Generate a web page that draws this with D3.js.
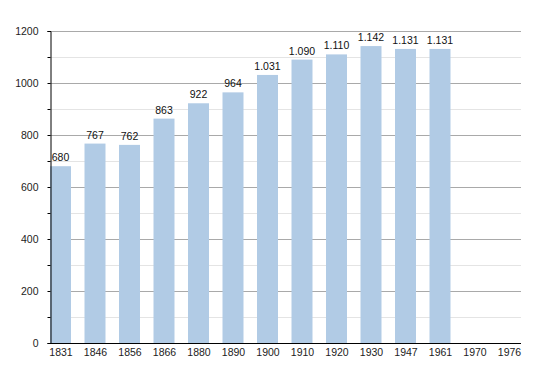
<!DOCTYPE html>
<html>
<head>
<meta charset="utf-8">
<script src="https://cdn.jsdelivr.net/npm/d3@7"></script>
<style>
  body { margin: 0; background: #fff; }
  text { font-family: "Liberation Sans", Arial, sans-serif; }
</style>
</head>
<body>
<svg id="chart" width="550" height="373"></svg>
<script>
// Data
const years = ['1831', '1846', '1856', '1866', '1880', '1890', '1900', '1910', '1920', '1930', '1947', '1961', '1970', '1976'];
const population = [680, 767, 762, 863, 922, 964, 1031, 1090, 1110, 1142, 1131, 1131, null, null];
const yTicks = [0, 200, 400, 600, 800, 1000, 1200];
const yMinorTicks = [100, 300, 500, 700, 900, 1100];

const svg = d3.select('#chart');
const plotLeft = 50, plotRight = 521, plotTop = 31, plotBottom = 343;
const fontSize = 10.5;

const x = d3.scalePoint().domain(years).range([60.5, 509]);
const y = d3.scaleLinear().domain([0, 1200]).range([plotBottom, plotTop]);
const barWidth = 21;

// Format with dot as thousands separator
const fmt = d3.formatLocale({ decimal: ',', thousands: '.', grouping: [3], currency: ['', ''] }).format(',d');

// Minor gridlines
svg.append('g')
  .selectAll('line')
  .data(yMinorTicks)
  .join('line')
  .attr('x1', plotLeft).attr('x2', plotRight)
  .attr('y1', d => y(d) + 0.5).attr('y2', d => y(d) + 0.5)
  .attr('stroke', '#e4e4e4');

// Major gridlines
svg.append('g')
  .selectAll('line')
  .data(yTicks.filter(d => d > 0))
  .join('line')
  .attr('x1', plotLeft).attr('x2', plotRight)
  .attr('y1', d => y(d) + 0.5).attr('y2', d => y(d) + 0.5)
  .attr('stroke', '#a9a9a9');

// Bars
const data = years.map((yr, i) => ({ year: yr, value: population[i] })).filter(d => d.value != null);

svg.append('g')
  .selectAll('rect')
  .data(data)
  .join('rect')
  .attr('x', d => x(d.year) - barWidth / 2)
  .attr('y', d => y(d.value))
  .attr('width', barWidth)
  .attr('height', d => y(0) - y(d.value))
  .attr('fill', '#b1cbe5');

// Value labels
svg.append('g')
  .selectAll('text')
  .data(data)
  .join('text')
  .attr('x', d => x(d.year))
  .attr('y', d => y(d.value) - 5)
  .attr('text-anchor', 'middle')
  .attr('font-size', fontSize)
  .attr('fill', '#111')
  .text(d => fmt(d.value));

// Y axis
const yAxis = svg.append('g')
  .attr('transform', `translate(${plotLeft + 0.5},0)`)
  .call(d3.axisLeft(y).tickValues(yTicks).tickSize(3).tickPadding(9).tickFormat(d3.format('d')));
yAxis.select('.domain').attr('stroke', '#000');
yAxis.selectAll('.tick text').attr('font-size', fontSize).attr('fill', '#222').attr('font-family', '"Liberation Sans", Arial, sans-serif');

svg.append('g')
  .attr('transform', `translate(${plotLeft + 0.5},0)`)
  .call(d3.axisLeft(y).tickValues(yMinorTicks).tickSize(3).tickFormat(''))
  .select('.domain').remove();

// X axis
const xAxis = svg.append('g')
  .attr('transform', `translate(0,${plotBottom + 0.5})`)
  .call(d3.axisBottom(x).tickSize(0).tickPadding(5));
xAxis.select('.domain').attr('d', `M${plotLeft},0H${plotRight}`).attr('stroke', '#000');
xAxis.selectAll('.tick text').attr('font-size', fontSize).attr('fill', '#222').attr('font-family', '"Liberation Sans", Arial, sans-serif');
</script>
</body>
</html>
